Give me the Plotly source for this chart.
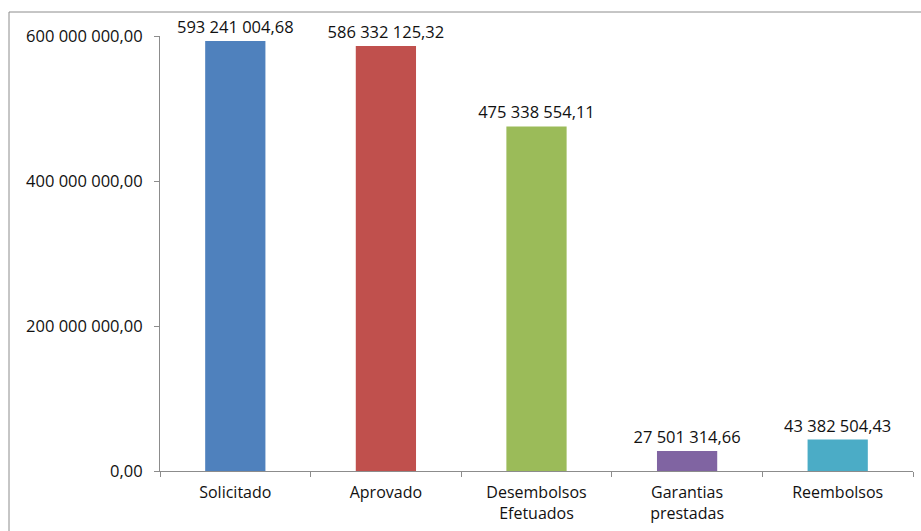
import plotly.graph_objects as go

categories = ["Solicitado", "Aprovado", "Desembolsos<br>Efetuados", "Garantias<br>prestadas", "Reembolsos"]
values = [593241004.68, 586332125.32, 475338554.11, 27501314.66, 43382504.43]
value_labels = ["593 241 004,68", "586 332 125,32", "475 338 554,11", "27 501 314,66", "43 382 504,43"]
colors = ["#4F81BD", "#C0504D", "#9BBB59", "#8064A2", "#4BACC6"]
y_tickvals = [0, 200000000, 400000000, 600000000]
y_ticktext = ["0,00", "200 000 000,00", "400 000 000,00", "600 000 000,00"]

FONT = "Open Sans"
TXT = "#111111"
AX = "#8c8c8c"

fig = go.Figure(go.Bar(
    x=categories, y=values, marker=dict(color=colors, line=dict(width=0)),
    text=value_labels, textposition="outside", cliponaxis=False,
    constraintext="none",
    textfont=dict(family=FONT, size=16.5, color=TXT), width=0.4,
))

fig.update_layout(
    width=921, height=531,
    margin=dict(l=160, r=8, t=36, b=60),
    paper_bgcolor="white", plot_bgcolor="white",
    showlegend=False,
    font=dict(family=FONT, size=16, color=TXT),
    xaxis=dict(showline=True, linecolor=AX, linewidth=1, ticks="outside",
               tickson="boundaries", ticklen=5, tickcolor=AX,
               ticklabelstandoff=7,
               tickfont=dict(family=FONT, size=16, color=TXT),
               showgrid=False, zeroline=False),
    yaxis=dict(range=[0, 600000000], tickvals=y_tickvals, ticktext=y_ticktext,
               showline=True, linecolor=AX, linewidth=1, ticks="outside",
               ticklen=5, tickcolor=AX, showgrid=False, zeroline=False,
               ticklabelstandoff=8,
               tickfont=dict(family=FONT, size=16.5, color=TXT)),
    shapes=[dict(type="rect", xref="paper", yref="paper",
                 x0=(9 - 160) / 753, x1=1.05, y0=-0.3, y1=(471 - 12) / 435,
                 line=dict(color=AX, width=1), fillcolor="rgba(0,0,0,0)", layer="below")],
    bargap=0.6,
)

fig.write_html("out.html")
